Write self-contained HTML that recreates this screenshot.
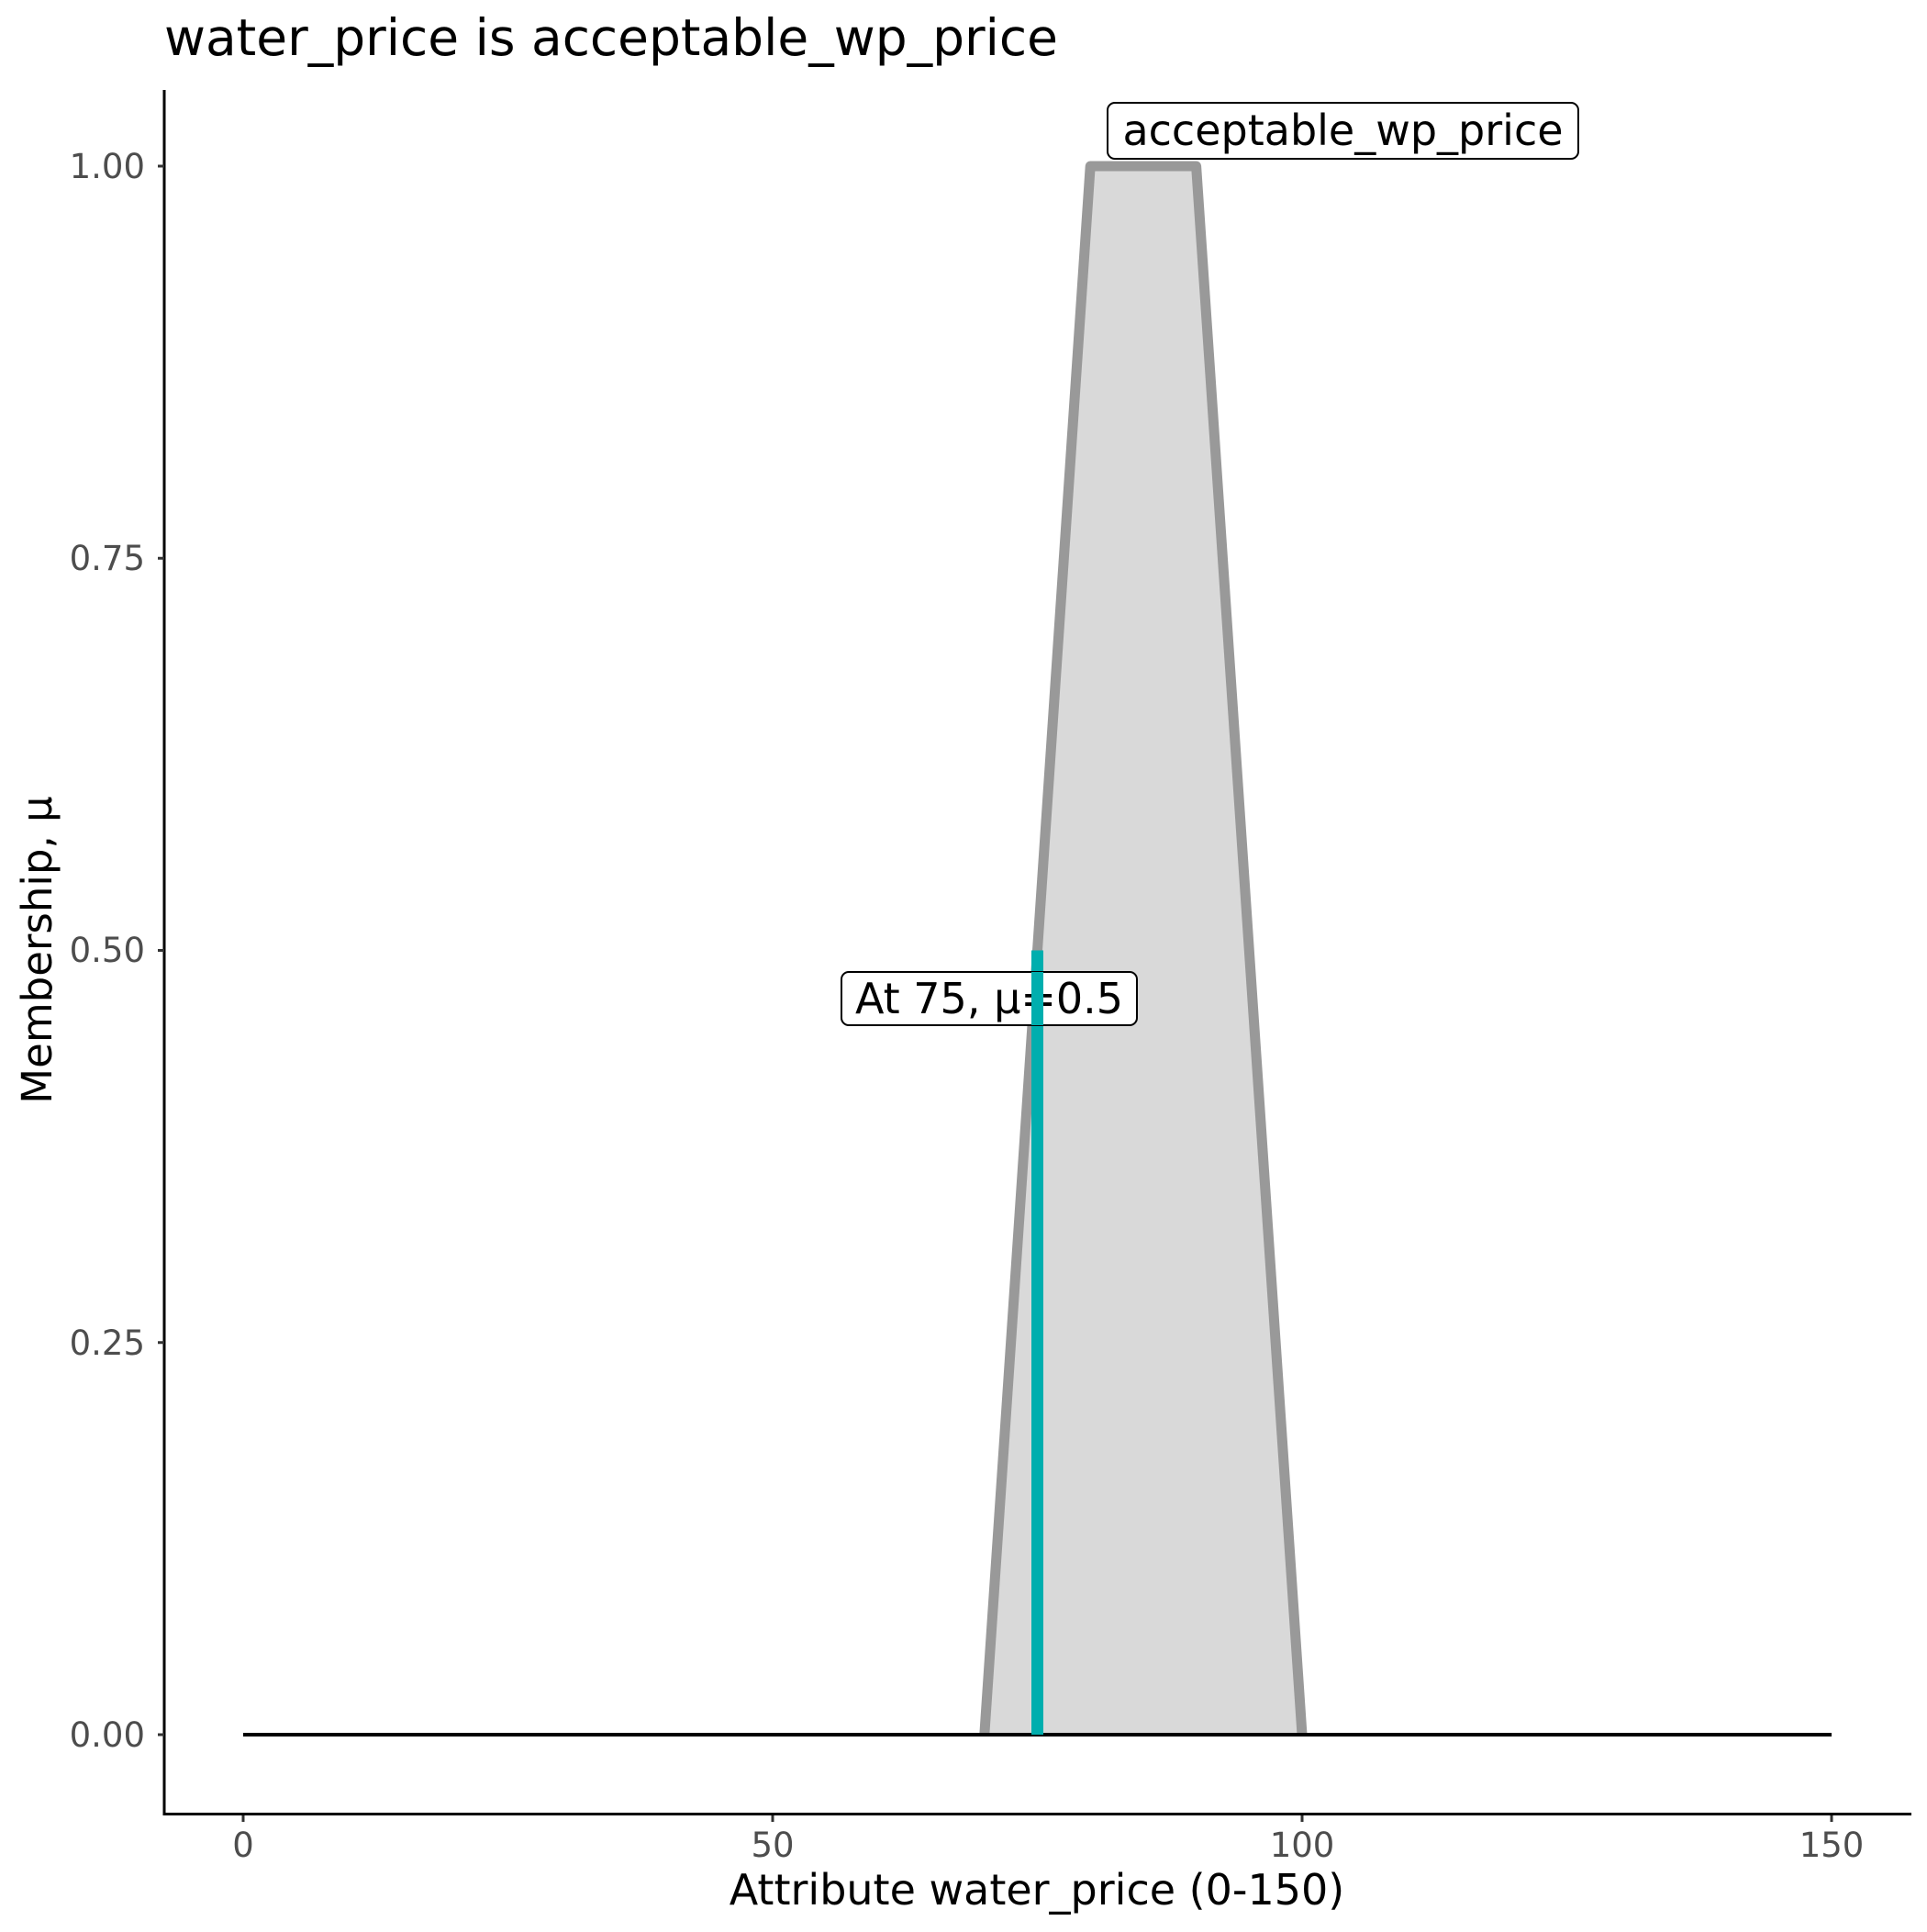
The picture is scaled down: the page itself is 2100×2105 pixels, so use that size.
<!DOCTYPE html>
<html><head><meta charset="utf-8"><style>body{margin:0;background:#fff}</style></head>
<body>
<svg width="2100" height="2100" xmlns="http://www.w3.org/2000/svg" font-family="DejaVu Sans, Liberation Sans, sans-serif">
<rect width="2100" height="2100" fill="#fff"/>
<text x="179" y="60" font-size="55">water_price is acceptable_wp_price</text>
<polygon points="1072.8,1890 1188.2,181 1303.6,181 1419,1890" fill="#d9d9d9"/>
<polyline points="1072.8,1890 1188.2,181 1303.6,181 1419,1890" fill="none" stroke="#999" stroke-width="11" stroke-linejoin="round"/>
<line x1="265" y1="1890" x2="1996" y2="1890" stroke="#000" stroke-width="4"/>
<line x1="1130.5" y1="1035.5" x2="1130.5" y2="1890" stroke="#00aeae" stroke-width="13"/>
<line x1="179" y1="98" x2="179" y2="1978" stroke="#000" stroke-width="3"/>
<line x1="177.5" y1="1976.5" x2="2083" y2="1976.5" stroke="#000" stroke-width="3"/>
<g stroke="#333" stroke-width="3">
<line x1="172" y1="181" x2="179" y2="181"/><line x1="172" y1="608.25" x2="179" y2="608.25"/><line x1="172" y1="1035.5" x2="179" y2="1035.5"/><line x1="172" y1="1462.75" x2="179" y2="1462.75"/><line x1="172" y1="1890" x2="179" y2="1890"/>
<line x1="265" y1="1978" x2="265" y2="1985"/><line x1="842" y1="1978" x2="842" y2="1985"/><line x1="1419" y1="1978" x2="1419" y2="1985"/><line x1="1996" y1="1978" x2="1996" y2="1985"/>
</g>
<g font-size="37" fill="#4d4d4d" text-anchor="end">
<text x="158" y="194">1.00</text><text x="158" y="621">0.75</text><text x="158" y="1048">0.50</text><text x="158" y="1476">0.25</text><text x="158" y="1903">0.00</text>
</g>
<g font-size="37" fill="#4d4d4d" text-anchor="middle">
<text x="265" y="2023">0</text><text x="842" y="2023">50</text><text x="1419" y="2023">100</text><text x="1996" y="2023">150</text>
</g>
<text x="1130" y="2075" font-size="46" text-anchor="middle">Attribute water_price (0-150)</text>
<text transform="translate(56,1035) rotate(-90)" font-size="45" text-anchor="middle">Membership, μ</text>
<rect x="1207" y="112" width="513" height="61" rx="8" fill="#fff" stroke="#000" stroke-width="2"/>
<text x="1463.5" y="158" font-size="46" text-anchor="middle">acceptable_wp_price</text>
<rect x="917" y="1059" width="322" height="58" rx="8" fill="#fff" stroke="#000" stroke-width="2"/>
<text x="1078" y="1104" font-size="46" text-anchor="middle">At 75, μ=0.5</text>
<line x1="1130.5" y1="1059" x2="1130.5" y2="1117" stroke="#00aeae" stroke-width="13"/>
</svg>
</body></html>
